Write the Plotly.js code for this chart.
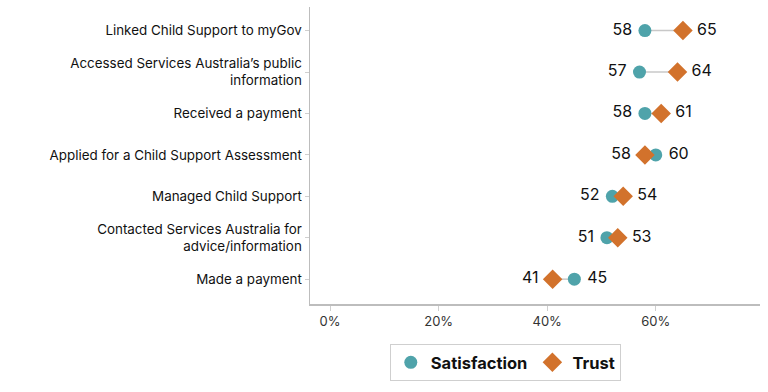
<!DOCTYPE html>
<html><head><meta charset="utf-8">
<script src="https://cdn.plot.ly/plotly-3.0.1.min.js"></script>
<style>html,body{margin:0;padding:0;background:#fff}#chart{width:768px;height:392px}</style>
</head><body><div id="chart"></div>
<script>
const categories = [
  "Linked Child Support to myGov",
  "Accessed Services Australia’s public<br>information",
  "Received a payment",
  "Applied for a Child Support Assessment",
  "Managed Child Support",
  "Contacted Services Australia for<br>advice/information",
  "Made a payment"
];
const satisfaction = [58, 57, 58, 60, 52, 51, 45];
const trust = [65, 64, 61, 58, 54, 53, 41];
const xTickVals = [0, 20, 40, 60];
const xTickText = ["0%", "20%", "40%", "60%"];

const teal = "#4fa3aa";
const orange = "#d2722c";
const fontFam = "Inter, Liberation Sans, sans-serif";

// connector lines
const lx = [], ly = [];
categories.forEach((c, i) => { lx.push(satisfaction[i], trust[i], null); ly.push(c, c, null); });

const satPos = satisfaction.map((v, i) => v <= trust[i] ? "middle left" : "middle right");
const trustPos = trust.map((v, i) => v < satisfaction[i] ? "middle left" : "middle right");
const labelFont = {family: fontFam, size: 16, color: "#111"};

const traces = [
  {x: lx, y: ly, type: "scatter", mode: "lines", line: {color: "#c8c8c8", width: 1.5}, showlegend: false, hoverinfo: "skip"},
  {x: satisfaction, y: categories, type: "scatter", mode: "markers", name: "Satisfaction",
   marker: {symbol: "circle", size: 13, color: teal}},
  {x: trust, y: categories, type: "scatter", mode: "markers", name: "Trust",
   marker: {symbol: "diamond", size: 15, color: orange}},
  // value labels (invisible markers used only to space the text away from the points)
  {x: satisfaction, y: categories, type: "scatter", mode: "markers+text", showlegend: false, hoverinfo: "skip",
   marker: {size: 19, opacity: 0}, text: satisfaction.map(String), textposition: satPos, textfont: labelFont},
  {x: trust, y: categories, type: "scatter", mode: "markers+text", showlegend: false, hoverinfo: "skip",
   marker: {size: 21, opacity: 0}, text: trust.map(String), textposition: trustPos, textfont: labelFont}
];

const layout = {
  width: 768, height: 392,
  margin: {l: 310, r: 8, t: 7, b: 88},
  paper_bgcolor: "#fff", plot_bgcolor: "#fff",
  font: {family: fontFam, size: 13, color: "#222"},
  showlegend: true,
  legend: {orientation: "h", x: 0.434, xanchor: "center", y: -0.135, yanchor: "top",
           bordercolor: "#cfcfcf", borderwidth: 1, itemwidth: 30,
           font: {family: fontFam, size: 16.5, color: "#111", weight: "bold"}},
  xaxis: {range: [-3.7, 79.2], tickvals: xTickVals, ticktext: xTickText, showgrid: false, zeroline: false,
          showline: true, linecolor: "#bdbdbd", linewidth: 1.5, ticks: "outside", ticklen: 5, tickcolor: "#cfcfcf",
          tickfont: {size: 13, color: "#333"}, fixedrange: true},
  yaxis: {type: "category", categoryorder: "array", categoryarray: categories, range: [6.6, -0.57],
          showgrid: false, zeroline: false, showline: true, linecolor: "#bdbdbd", linewidth: 1.5,
          ticks: "outside", ticklen: 4, tickcolor: "#cfcfcf", tickfont: {size: 13.4, color: "#111"}, fixedrange: true}
};

Plotly.newPlot("chart", traces, layout, {displayModeBar: false, staticPlot: true});
</script></body></html>
